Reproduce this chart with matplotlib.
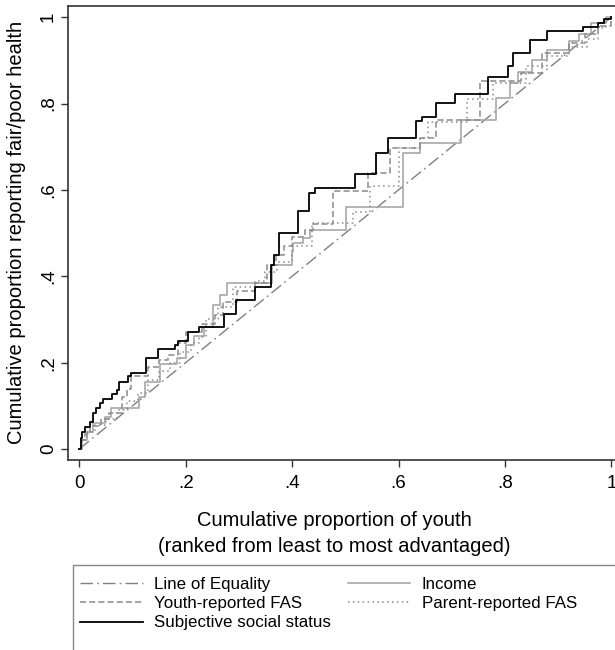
import matplotlib
matplotlib.use('Agg')
import matplotlib.pyplot as plt
from matplotlib.patches import Rectangle

plt.rcParams['font.family'] = ['Liberation Sans', 'DejaVu Sans']

# concentration curves: x where a step happens, y level after the step
sss_x = [0, .003, .006, .011, .020, .026, .031, .039, .045, .061, .070, .075, .092, .098, .125,
         .148, .180, .186, .205, .225, .272, .294, .331, .360, .366, .376, .412, .432, .443, .518,
         .557, .581, .632, .645, .671, .706, .768, .806, .815, .848, .879, .947, .975, .987, 1.0]
sss_y = [0, .025, .040, .052, .063, .083, .094, .106, .115, .127, .137, .156, .168, .177, .210,
         .231, .241, .251, .272, .282, .312, .344, .375, .426, .449, .500, .552, .594, .604, .636,
         .686, .720, .760, .770, .801, .822, .862, .886, .917, .947, .968, .978, .986, .996, 1.0]

income_x = [0, .005, .015, .026, .048, .059, .112, .123, .152, .183, .200, .215, .235, .252, .264,
            .277, .362, .399, .402, .421, .434, .502, .609, .640, .718, .784, .809, .825, .850, .880,
            .920, .940, .962, .990, 1.0]
income_y = [0, .02, .04, .061, .075, .094, .121, .156, .198, .210, .241, .262, .283, .334, .357,
            .384, .426, .457, .476, .488, .507, .561, .685, .708, .762, .812, .847, .874, .900, .925,
            .944, .960, .986, 1.0, 1.0]

youth_x = [0, .004, .010, .020, .040, .055, .080, .090, .098, .130, .150, .167, .185, .200, .230,
           .255, .270, .296, .330, .352, .370, .385, .400, .424, .440, .477, .542, .584, .640, .671,
           .753, .830, .870, .920, .950, .975, 1.0]
youth_y = [0, .02, .035, .053, .07, .084, .12, .14, .168, .19, .205, .218, .245, .272, .29,
           .31, .34, .365, .385, .426, .45, .47, .49, .507, .52, .598, .64, .697, .72, .762,
           .853, .87, .917, .94, .96, .98, 1.0]

parent_x = [0, .005, .015, .030, .050, .070, .090, .110, .130, .150, .170, .190, .210, .225, .239,
            .260, .289, .330, .350, .371, .400, .437, .515, .546, .600, .640, .655, .728, .777, .840,
            .880, .920, .955, .975, .990, 1.0]
parent_y = [0, .02, .04, .055, .07, .09, .11, .13, .16, .18, .20, .225, .245, .26, .30,
            .33, .376, .39, .41, .434, .469, .523, .55, .608, .697, .72, .757, .81, .847, .886,
            .91, .932, .95, .975, .99, 1.0]

equal_x = [0, 1]
equal_y = [0, 1]

ticks = [0, .2, .4, .6, .8, 1]
tick_labels = ['0', '.2', '.4', '.6', '.8', '1']

W, H = 615, 650
fig = plt.figure(figsize=(W / 100, H / 100), dpi=100)
# right spine falls outside the picture, as in the cropped original
ax = fig.add_axes([68 / W, (H - 460) / H, (622.6 - 68) / W, (460 - 6) / H])

eq_line, = ax.plot(equal_x, equal_y, color='#808080', lw=1.0, dashes=(9, 3, 1.2, 3))
inc_line, = ax.step(income_x, income_y, where='post', color='#a8a8a8', lw=1.2)
par_line, = ax.step(parent_x, parent_y, where='post', color='#8a8a8a', lw=1.1, dashes=(1, 2.2))
you_line, = ax.step(youth_x, youth_y, where='post', color='#8a8a8a', lw=1.1, dashes=(4, 2))
sss_line, = ax.step(sss_x, sss_y, where='post', color='black', lw=1.3)

ax.set_xlim(-0.0212, 1.0212)
ax.set_ylim(-0.0255, 1.026)
ax.set_xticks(ticks)
ax.set_xticklabels(tick_labels)
ax.set_yticks(ticks)
ax.set_yticklabels(tick_labels, rotation=90, va='center')
ax.tick_params(direction='out', length=5, width=1.0, color='#333333', labelsize=13.5, pad=6)
ax.tick_params(axis='y', pad=3)
for s in ax.spines.values():
    s.set_color('#333333')
    s.set_linewidth(1.2)

fig.text(17 / W, 1 - 232 / H, 'Cumulative proportion reporting fair/poor health',
         rotation=90, ha='center', va='center', fontsize=14.5)
fig.text(334 / W, 1 - 520 / H, 'Cumulative proportion of youth',
         ha='center', va='center', fontsize=14.5)
fig.text(334 / W, 1 - 546 / H, '(ranked from least to most advantaged)',
         ha='center', va='center', fontsize=14.5)

# legend box runs off the right and bottom edges
fig.patches.append(Rectangle((73 / W, -0.2), 1.0, (H - 565) / H + 0.2, transform=fig.transFigure,
                             fill=False, edgecolor='#888888', lw=1.0))
handles = [eq_line, you_line, sss_line, inc_line, par_line]
labels = ['Line of Equality', 'Youth-reported FAS', 'Subjective social status',
          'Income', 'Parent-reported FAS']
fig.legend(handles, labels, loc='upper left', bbox_to_anchor=(80 / W, 1 - 577 / H),
           ncol=2, frameon=False, fontsize=12.2, handlelength=3.7, handletextpad=0.66,
           columnspacing=1.0, labelspacing=0.25, borderpad=0, borderaxespad=0)

fig.savefig('out.png', dpi=100)
